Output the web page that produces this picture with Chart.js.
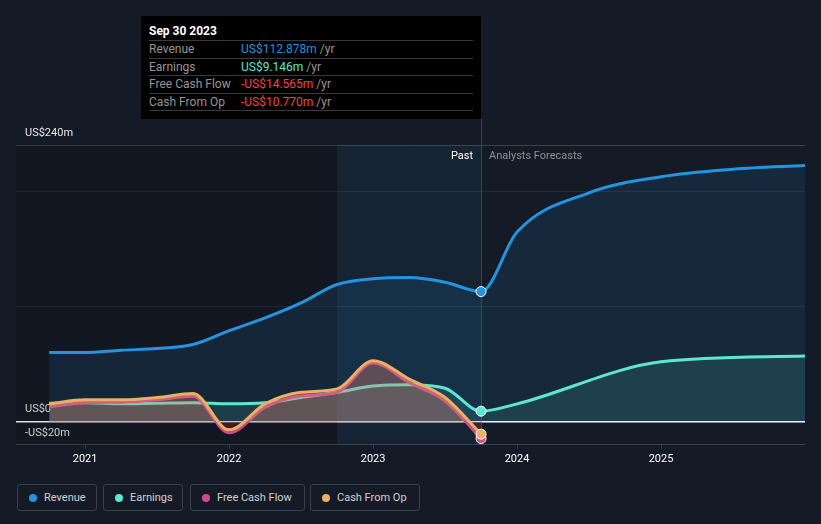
<!DOCTYPE html>
<html>
<head>
    <title>Revenue and earnings</title>
    <script src="https://cdn.jsdelivr.net/npm/chart.js"></script>
    <style>
        body { margin: 0; background: #151b26; width: 821px; height: 524px; overflow: hidden; font-family: Roboto, sans-serif; }
        #wrap { position: relative; width: 821px; height: 524px; }
        canvas { position: absolute; left: 0; top: 0; }
        .tt { position: absolute; left: 141px; top: 16px; width: 324px; height: 103px; padding: 0 8px; background: #000; font-size: 12px; }
        .tt .head { color: #fff; font-weight: bold; line-height: 17px; padding-top: 7px; border-bottom: 1px solid #3a3a3a; }
        .tt .row { line-height: 16.5px; border-bottom: 1px solid #3a3a3a; color: #959595; white-space: nowrap; }
        .tt .lab { display: inline-block; width: 92px; }
        .legend { position: absolute; left: 17px; top: 484px; display: flex; }
        .legend div { box-sizing: border-box; height: 27px; border: 1px solid #3b404b; border-radius: 3px; padding-left: 11px; display: flex; align-items: center; font-size: 11px; color: #d0d0d0; white-space: nowrap; }
        .legend span { width: 8px; height: 8px; border-radius: 50%; margin-right: 7px; flex: none; }
    </style>
</head>
<body>
<div id="wrap">
    <canvas id="chart" width="821" height="477"></canvas>
    <div class="tt">
        <div class="head">Sep 30 2023</div>
        <div class="row"><span class="lab">Revenue</span><span style="color:#2394df">US$112.878m</span> /yr</div>
        <div class="row"><span class="lab">Earnings</span><span style="color:#5ee6cf">US$9.146m</span> /yr</div>
        <div class="row"><span class="lab">Free Cash Flow</span><span style="color:#f0443c">-US$14.565m</span> /yr</div>
        <div class="row"><span class="lab">Cash From Op</span><span style="color:#f0443c">-US$10.770m</span> /yr</div>
    </div>
    <div class="legend">
        <div style="width:80px"><span style="background:#2394df"></span>Revenue</div>
        <div style="width:80px;margin-left:6px"><span style="background:#5ee6cf"></span>Earnings</div>
        <div style="width:115px;margin-left:7px"><span style="background:#d04a8a"></span>Free Cash Flow</div>
        <div style="width:110px;margin-left:5px"><span style="background:#e8b060"></span>Cash From Op</div>
    </div>
</div>

<script>
    // dates as decimal years, values in US$m
    const pastDates = [2020.75, 2021, 2021.25, 2021.5, 2021.75, 2022, 2022.25, 2022.5, 2022.75, 2023, 2023.25, 2023.5, 2023.75];
    const revenuePast = [60, 60, 62, 63.5, 67, 79, 90, 103, 119, 124, 125, 121, 112.878];
    const earningsPast = [16, 16.5, 15.5, 16, 16.5, 15.5, 16.5, 21, 25.5, 31, 32, 29, 9.146];
    const fcfPast = [13, 16.5, 17, 19, 22, -9.5, 12.5, 22.5, 25.5, 51, 34, 18, -14.565];
    const cfoPast = [15.5, 19, 19, 21, 24.5, -7, 15.5, 25.5, 28.5, 53, 37, 21, -10.77];

    // analyst forecasts
    const revenueForecastDates = [2024, 2024.5, 2025, 2025.5, 2026];
    const revenueForecast = [164.5, 198.5, 212.5, 219, 222.3];
    const earningsForecastDates = [2024, 2025, 2026];
    const earningsForecast = [15.5, 52, 57];

    const yearTicks = [2021, 2022, 2023, 2024, 2025];
    const yTicks = [-20, 0, 100, 200, 240];
    const yLabels = { '-20': '-US$20m', '0': 'US$0', '240': 'US$240m' };
    const bandStart = 2022.75;
    const lastPast = 2023.75;

    function pts(xs, ys) { return xs.map((x, i) => ({ x: x, y: ys[i] })); }

    const dotRadius = ctx => (ctx.raw && ctx.raw.x === lastPast) ? 5 : 0;

    function lineSet(label, data, color, fillColor, belowColor, order) {
        return {
            label: label,
            data: data,
            borderColor: color,
            borderWidth: 3,
            backgroundColor: fillColor,
            fill: { target: 'origin', above: fillColor, below: belowColor || fillColor },
            cubicInterpolationMode: 'monotone',
            pointRadius: dotRadius,
            pointBackgroundColor: color,
            pointBorderColor: '#ffffff',
            pointBorderWidth: 1,
            order: order
        };
    }

    const pastBand = {
        id: 'pastBand',
        beforeDatasetsDraw(chart) {
            const { ctx, chartArea: a, scales: { x } } = chart;
            const x0 = x.getPixelForValue(bandStart);
            const x1 = x.getPixelForValue(lastPast);
            ctx.save();
            ctx.fillStyle = 'rgba(0,0,0,0.12)';
            ctx.fillRect(a.left, a.top, x0 - a.left, a.bottom - a.top);
            ctx.fillStyle = 'rgba(33,140,230,0.07)';
            ctx.fillRect(x0, a.top, x1 - x0, a.bottom - a.top);
            ctx.strokeStyle = 'rgba(40,120,190,0.5)';
            ctx.lineWidth = 1;
            ctx.beginPath();
            ctx.moveTo(Math.round(x1) + 0.5, 119);
            ctx.lineTo(Math.round(x1) + 0.5, a.bottom);
            ctx.stroke();
            ctx.font = '11px Roboto';
            ctx.textBaseline = 'middle';
            ctx.textAlign = 'right';
            ctx.fillStyle = '#ffffff';
            ctx.fillText('Past', x1 - 8, a.top + 11);
            ctx.textAlign = 'left';
            ctx.fillStyle = '#8b9099';
            ctx.fillText('Analysts Forecasts', x1 + 8, a.top + 11);
            ctx.restore();
        }
    };

    Chart.defaults.font.family = 'Roboto';

    new Chart(document.getElementById('chart').getContext('2d'), {
        type: 'line',
        data: {
            datasets: [
                lineSet('Revenue', pts(pastDates.concat(revenueForecastDates), revenuePast.concat(revenueForecast)), '#2394df', 'rgba(35,148,223,0.12)', null, 4),
                lineSet('Earnings', pts(pastDates.concat(earningsForecastDates), earningsPast.concat(earningsForecast)), '#5ee6cf', 'rgba(94,230,207,0.12)', null, 3),
                lineSet('Free Cash Flow', pts(pastDates, fcfPast), '#d04a8a', 'rgba(208,74,138,0.2)', 'rgba(120,20,50,0.3)', 2),
                lineSet('Cash From Op', pts(pastDates, cfoPast), '#e8b060', 'rgba(232,176,96,0.2)', 'rgba(120,40,30,0.25)', 1)
            ]
        },
        options: {
            responsive: false,
            animation: false,
            layout: { padding: { left: 16, right: 16, top: 145, bottom: 7 } },
            plugins: { legend: { display: false }, tooltip: { enabled: false } },
            scales: {
                x: {
                    type: 'linear',
                    min: 2020.52,
                    max: 2026,
                    afterBuildTicks: s => { s.ticks = yearTicks.map(v => ({ value: v })); },
                    ticks: { color: '#ffffff', font: { size: 11 }, padding: 4, maxRotation: 0, callback: v => String(v) },
                    grid: { drawOnChartArea: false, drawTicks: true, tickLength: 4, color: '#3b404b' },
                    border: { display: false }
                },
                y: {
                    min: -20,
                    max: 240,
                    afterBuildTicks: s => { s.ticks = yTicks.map(v => ({ value: v })); },
                    afterFit: s => { s.width = 0; },
                    ticks: {
                        mirror: true,
                        padding: 9,
                        labelOffset: -12,
                        color: '#e6e6e6',
                        font: { size: 11 },
                        callback: v => yLabels[String(v)] || ''
                    },
                    grid: {
                        drawTicks: false,
                        color: c => c.tick.value === 0 ? '#ffffff' : (c.tick.value === 100 || c.tick.value === 200 ? '#252b36' : '#3b404b'),
                        lineWidth: c => c.tick.value === 0 ? 1.5 : 1
                    },
                    border: { display: false }
                }
            }
        },
        plugins: [pastBand]
    });
</script>
</body>
</html>
